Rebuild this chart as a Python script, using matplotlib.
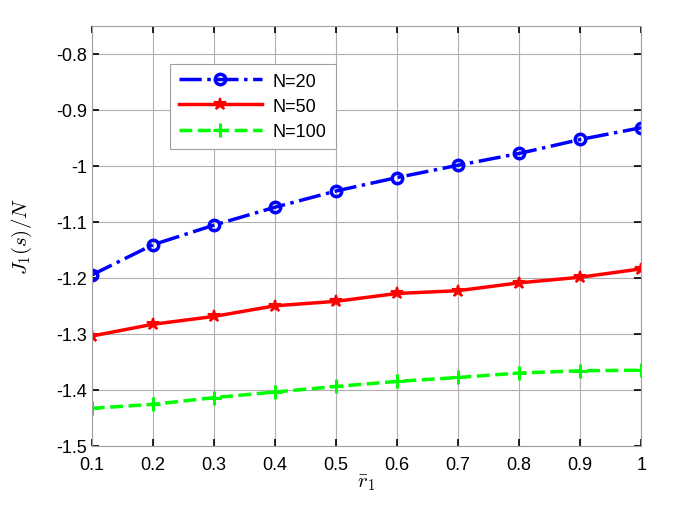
"""J1(s)/N versus r1 for several N"""
import matplotlib
matplotlib.use("Agg")
import matplotlib.pyplot as plt

plt.rcParams["font.family"] = ["Liberation Sans", "DejaVu Sans"]
plt.rcParams["mathtext.fontset"] = "cm"

# values
r1 = [0.1, 0.2, 0.3, 0.4, 0.5, 0.6, 0.7, 0.8, 0.9, 1.0]
n20 = [-1.195, -1.141, -1.106, -1.074, -1.045, -1.021, -0.999, -0.978, -0.953, -0.932]
n50 = [-1.304, -1.283, -1.269, -1.250, -1.242, -1.228, -1.223, -1.209, -1.199, -1.184]
n100 = [-1.433, -1.426, -1.414, -1.404, -1.394, -1.385, -1.378, -1.370, -1.366, -1.365]
xticks = [0.1, 0.2, 0.3, 0.4, 0.5, 0.6, 0.7, 0.8, 0.9, 1.0]
xticklabels = ["0.1", "0.2", "0.3", "0.4", "0.5", "0.6", "0.7", "0.8", "0.9", "1"]
yticks = [-1.5, -1.4, -1.3, -1.2, -1.1, -1.0, -0.9, -0.8]
yticklabels = ["-1.5", "-1.4", "-1.3", "-1.2", "-1.1", "-1", "-0.9", "-0.8"]

fig = plt.figure(figsize=(6.85, 5.06), dpi=100)
ax = fig.add_axes([0.134, 0.117, 0.802, 0.830])

# the three curves
ax.plot(r1, n20, color="#0000ff", linestyle="-.", linewidth=2.5, marker="o",
        markersize=7.5, markerfacecolor="none", markeredgewidth=2.5, label="N=20")
ax.plot(r1, n50, color="#ff0000", linestyle="-", linewidth=2.5, marker="*",
        markersize=9, markeredgewidth=1.5, label="N=50")
ax.plot(r1, n100, color="#00ff00", linestyle="--", linewidth=2.5, marker="+",
        markersize=10, markeredgewidth=2.2, label="N=100")

ax.set_xlim(0.1, 1.0)
ax.set_ylim(-1.5, -0.75)
ax.set_xticks(xticks)
ax.set_xticklabels(xticklabels)
ax.set_yticks(yticks)
ax.set_yticklabels(yticklabels)
ax.grid(True, color="#b0b0b0", linewidth=0.8)
ax.tick_params(direction="in", length=5, width=1.2, labelsize=13,
               top=True, right=True, color="black")
ax.tick_params(axis="x", pad=7)
for s in ax.spines.values():
    s.set_color("#a0a0a0")

ax.set_xlabel(r"$\bar{r}_1$", fontsize=15, labelpad=0)
ax.set_ylabel(r"$J_1(s)/N$", fontsize=15, labelpad=16)

leg = ax.legend(loc="upper left", bbox_to_anchor=(0.142, 0.91), fontsize=13,
                fancybox=False, framealpha=1, edgecolor="#a0a0a0",
                handlelength=4.6, borderaxespad=0, labelspacing=0.45,
                borderpad=0.5, handletextpad=0.6)
leg.get_frame().set_linewidth(0.8)

fig.savefig("out.png", dpi=100)
